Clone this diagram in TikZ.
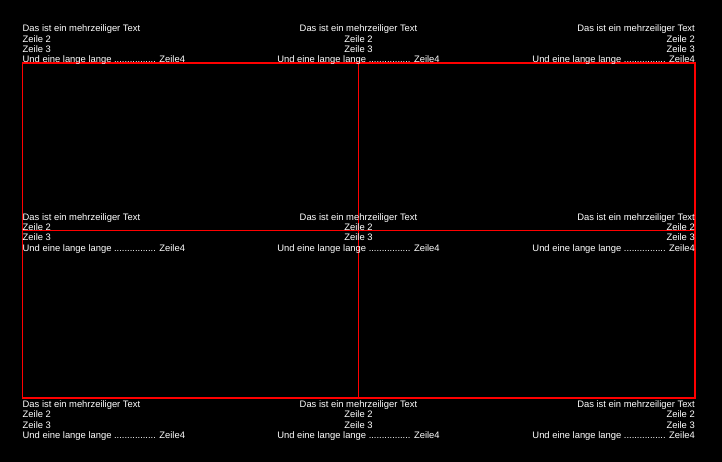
\documentclass[tikz,border=0pt]{standalone}
\usepackage{fontspec}
\setmainfont{Liberation Sans}
\begin{document}
\begin{tikzpicture}[x=1pt,y=-1pt,
  lbl/.style={text=white,inner sep=0pt,font=\fontsize{9.4}{10.4}\selectfont},
  gridline/.style={draw=red,line width=1.6pt}]
\useasboundingbox[fill=black] (0,0) rectangle (722,462);
\coordinate (TL) at (22.5,63);
\coordinate (TM) at (358.5,63);
\coordinate (TR) at (695,63);
\coordinate (ML) at (22.5,230.5);
\coordinate (MM) at (358.5,230.5);
\coordinate (MR) at (695,230.5);
\coordinate (BL) at (22.5,398);
\coordinate (BM) at (358.5,398);
\coordinate (BR) at (695,398);
\draw[gridline] (TL) rectangle (MM);
\draw[gridline] (TM) rectangle (MR);
\draw[gridline] (ML) rectangle (BM);
\draw[gridline] (MM) rectangle (BR);
\newcommand{\mytxt}{Das ist ein mehrzeiliger Text\\Zeile 2\\Zeile 3\\Und eine lange lange ................ Zeile4}
% top row
\node[lbl,align=left,anchor=south west] (t1) at ([shift={(0,2.1)}]TL) {\mytxt};
\node[lbl,align=center,anchor=south] (t2) at ([shift={(0,2.1)}]TM) {\mytxt};
\node[lbl,align=right,anchor=south east] (t3) at ([shift={(0,2.1)}]TR) {\mytxt};
% middle row
\node[lbl,align=left,anchor=west] (m1) at ([shift={(0,2.8)}]ML) {\mytxt};
\node[lbl,align=center,anchor=center] (m2) at ([shift={(0,2.8)}]MM) {\mytxt};
\node[lbl,align=right,anchor=east] (m3) at ([shift={(0,2.8)}]MR) {\mytxt};
% bottom row
\node[lbl,align=left,anchor=north west] (b1) at ([shift={(0,2.5)}]BL) {\mytxt};
\node[lbl,align=center,anchor=north] (b2) at ([shift={(0,2.5)}]BM) {\mytxt};
\node[lbl,align=right,anchor=north east] (b3) at ([shift={(0,2.5)}]BR) {\mytxt};
\end{tikzpicture}
\end{document}
